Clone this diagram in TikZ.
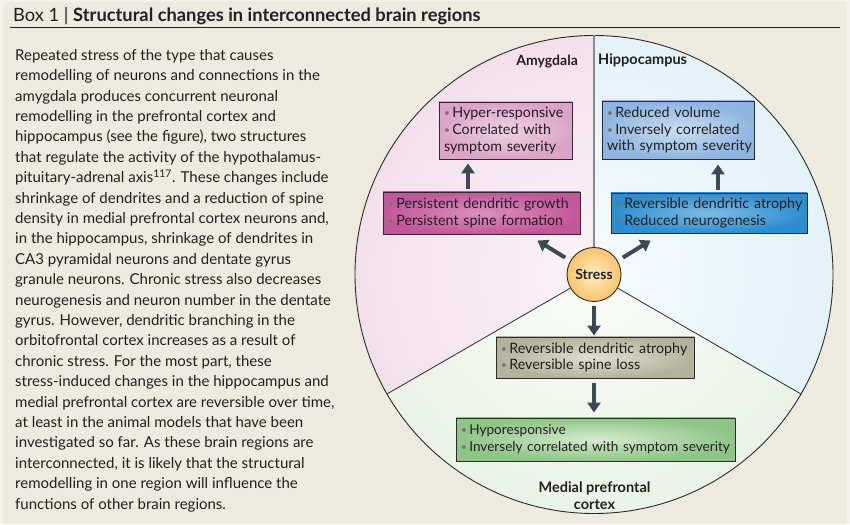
\documentclass[tikz,border=0pt]{standalone}
\usepackage{fontspec}
\setmainfont{Lato}
\usetikzlibrary{arrows.meta,calc}
\definecolor{outerbg}{HTML}{F4F2EC}
\definecolor{panel}{HTML}{EDEAE0}
\definecolor{txt}{HTML}{231F20}
\definecolor{rulecol}{HTML}{231F20}
\definecolor{lncol}{HTML}{2B2B2B}
\definecolor{vline}{HTML}{8A8A8A}
\definecolor{arrcol}{HTML}{3A4A54}
\definecolor{bulcol}{HTML}{747474}
\definecolor{amyIn}{HTML}{FAF3F7}
\definecolor{amyOut}{HTML}{EDCCDF}
\definecolor{hipIn}{HTML}{F6FBFD}
\definecolor{hipOut}{HTML}{D1E9F6}
\definecolor{mpfIn}{HTML}{F9FBF7}
\definecolor{mpfOut}{HTML}{DDEADA}
\definecolor{bAin}{HTML}{EED3E3}
\definecolor{bAout}{HTML}{DBA3C7}
\definecolor{bBin}{HTML}{DB90BD}
\definecolor{bBout}{HTML}{C2579B}
\definecolor{bCin}{HTML}{C9DEF2}
\definecolor{bCout}{HTML}{8EB5E0}
\definecolor{bDin}{HTML}{80BAE3}
\definecolor{bDout}{HTML}{2C8ED0}
\definecolor{bEin}{HTML}{DEDECF}
\definecolor{bEout}{HTML}{B3B39D}
\definecolor{bFin}{HTML}{D5EAD0}
\definecolor{bFout}{HTML}{8FC487}
\definecolor{stIn}{HTML}{FFEBC2}
\definecolor{stOut}{HTML}{F9C46C}
\newcommand{\mybul}{{\color{bulcol}\fontsize{10}{10}\selectfont\raisebox{0.1em}{•}}\hspace{2.5pt}}
\newcommand{\bline}[1]{\mbox{\mybul #1}}
\newcommand{\pline}[1]{\mbox{#1}}
\begin{document}
\begin{tikzpicture}[x=1pt,y=1pt,
  bx/.style={draw=lncol, line width=0.9pt, inner xsep=5pt, inner ysep=0pt, align=left,
    font=\fontsize{14.3}{16.7}\selectfont, text=txt, shade},
  arr/.style={draw=arrcol, line width=4pt, -{Triangle[width=13pt,length=10pt]}},
  lbl/.style={font=\bfseries\fontsize{14}{17}\selectfont, text=txt, inner sep=0pt},
  secline/.style={draw=lncol, line width=0.8pt}]
\useasboundingbox (0,0) rectangle (850,524);
\fill[outerbg] (0,0) rectangle (850,524);
\fill[panel] (847,0) -- (3,0) -- (3,514) arc[start angle=180,end angle=90,radius=8] -- (847,522) -- cycle;
% header
\node[anchor=base west, inner sep=0pt, text=txt, font=\fontsize{18.3}{20}\selectfont] (title) at (13,502)
  {Box 1 | \textbf{Structural changes in interconnected brain regions}};
\draw[rulecol, line width=1pt] (10,496) -- (840,496);
% body text
\node[anchor=north west, inner sep=0pt, align=left, text=txt, font=\fontsize{15}{20.4}\selectfont] (body) at (15,475)
{Repeated stress of the type that causes\\
remodelling of neurons and connections in the\\
amygdala produces concurrent neuronal\\
remodelling in the prefrontal cortex and\\
hippocampus (see the figure), two structures\\
that regulate the activity of the hypothalamus-\\
pituitary-adrenal axis\textsuperscript{117}. These changes include\\
shrinkage of dendrites and a reduction of spine\\
density in medial prefrontal cortex neurons and,\\
in the hippocampus, shrinkage of dendrites in\\
CA3 pyramidal neurons and dentate gyrus\\
granule neurons. Chronic stress also decreases\\
neurogenesis and neuron number in the dentate\\
gyrus. However, dendritic branching in the\\
orbitofrontal cortex increases as a result of\\
chronic stress. For the most part, these\\
stress-induced changes in the hippocampus and\\
medial prefrontal cortex are reversible over time,\\
at least in the animal models that have been\\
investigated so far. As these brain regions are\\
interconnected, it is likely that the structural\\
remodelling in one region will influence the\\
functions of other brain regions.};
% big circle sectors
\coordinate (C) at (594,249.5);
\begin{scope}
\clip (C) -- ++(90:239) arc[start angle=90,end angle=210,radius=239] -- cycle;
\shade[inner color=amyIn, outer color=amyOut] (C) circle[radius=478];
\end{scope}
\begin{scope}
\clip (C) -- ++(-30:239) arc[start angle=-30,end angle=90,radius=239] -- cycle;
\shade[inner color=hipIn, outer color=hipOut] (C) circle[radius=478];
\end{scope}
\begin{scope}
\clip (C) -- ++(210:239) arc[start angle=210,end angle=330,radius=239] -- cycle;
\shade[inner color=mpfIn, outer color=mpfOut] (C) circle[radius=478];
\end{scope}
\draw[lncol, line width=0.9pt] (C) circle[radius=239];
% stress node
\node[circle, draw=lncol, line width=0.9pt, minimum size=54pt, inner sep=0pt, shade, inner color=stIn, outer color=stOut,
  font=\bfseries\fontsize{14}{17}\selectfont, text=txt] (S) at (C) {Stress};
\coordinate (eTop) at ($(C)+(90:239)$);
\coordinate (eL) at ($(C)+(210:239)$);
\coordinate (eR) at ($(C)+(330:239)$);
\draw[vline, line width=1.2pt] (S.north) -- (eTop);
\draw[secline] (S.210) -- (eL);
\draw[secline] (S.330) -- (eR);
% labels
\node[lbl, anchor=base east] (amy) at (578,458) {Amygdala};
\node[lbl, anchor=base west, font=\bfseries\fontsize{14.5}{17}\selectfont] (hip) at (598,459) {Hippocampus};
\node[lbl, anchor=north, align=center, font=\bfseries\fontsize{14.5}{17}\selectfont] (mpfc) at (594.5,42.5) {Medial prefrontal\\cortex};
% boxes
\node[bx, inner color=bAin, outer color=bAout, minimum height=57pt, text width=123pt] (B1) at (505.5,393.5)
  {\bline{Hyper-responsive}\\\bline{Correlated with}\\\pline{symptom severity}};
\node[bx, inner color=bBin, outer color=bBout, minimum height=42pt, text width=187pt] (B2) at (481.5,311)
  {\bline{Persistent dendritic growth}\\\bline{Persistent spine formation}};
\node[bx, inner color=bCin, outer color=bCout, minimum height=58pt, text width=142pt] (B3) at (678,394)
  {\bline{Reduced volume}\\\bline{Inversely correlated}\\\pline{with symptom severity}};
\node[bx, inner color=bDin, outer color=bDout, minimum height=40pt, text width=186pt] (B4) at (709,311)
  {\bline{Reversible dendritic atrophy}\\\bline{Reduced neurogenesis}};
\node[bx, inner color=bEin, outer color=bEout, minimum height=41pt, text width=188pt] (B5) at (595,166.5)
  {\bline{Reversible dendritic atrophy}\\\bline{Reversible spine loss}};
\node[bx, inner color=bFin, outer color=bFout, minimum height=43pt, text width=269pt, font=\fontsize{13.6}{16.7}\selectfont] (B6) at (595.5,84.5)
  {\bline{Hyporesponsive}\\\bline{Inversely correlated with symptom severity}};
% arrows
\coordinate (xa) at (468,0);
\coordinate (xh) at (718,0);
\coordinate (tl) at ($(C)+(149:66)$);
\coordinate (tr) at ($(C)+(31:66)$);
\draw[arr, shorten <=3pt, shorten >=4pt] (B2.north -| xa) -- (B1.south -| xa);
\draw[arr, shorten <=3pt, shorten >=5pt] (B4.north -| xh) -- (B3.south -| xh);
\draw[arr, shorten <=6pt] (S.150) -- (tl);
\draw[arr, shorten <=6pt] (S.30) -- (tr);
\draw[arr, shorten <=4pt, shorten >=1pt] (S.south) -- (B5.north -| S);
\draw[arr, shorten <=5pt, shorten >=5pt] (B5.south -| S) -- (B6.north -| S);
\end{tikzpicture}
\end{document}
